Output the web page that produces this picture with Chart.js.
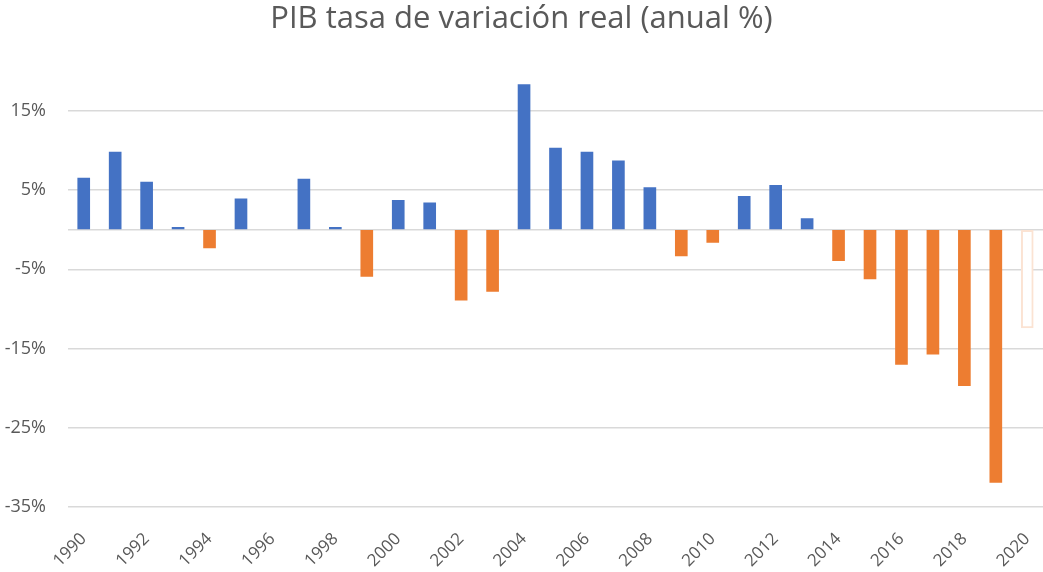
<!DOCTYPE html>
<html lang="es">
<head>
    <meta charset="UTF-8">
    <title>PIB tasa de variación real</title>
    <script src="https://cdn.jsdelivr.net/npm/chart.js"></script>
    <style>
        html, body { margin: 0; padding: 0; background: #fff; }
        #wrap { width: 1043px; height: 572px; }
    </style>
</head>
<body>
    <div id="wrap"><canvas id="pibChart"></canvas></div>
    <script>
        // años y variación anual del PIB (%)
        const years = ['1990','1991','1992','1993','1994','1995','1996','1997','1998','1999',
                       '2000','2001','2002','2003','2004','2005','2006','2007','2008','2009',
                       '2010','2011','2012','2013','2014','2015','2016','2017','2018','2019','2020'];
        const pibGrowth = [6.5, 9.8, 6.0, 0.3, -2.3, 3.9, null, 6.4, 0.3, -5.9,
                           3.7, 3.4, -8.9, -7.8, 18.3, 10.3, 9.8, 8.7, 5.3, -3.3,
                           -1.6, 4.2, 5.6, 1.4, -3.9, -6.2, -17.0, -15.7, -19.7, -31.9, -12.4];
        const estimateYears = ['2020']; // valor estimado (barra sin relleno)
        const yTicks = [-35, -25, -15, -5, 0, 5, 15];

        const BLUE = '#4472C4';
        const ORANGE = '#ED7D31';

        const fills = pibGrowth.map((v, i) => {
            if (estimateYears.includes(years[i])) return '#ffffff';
            return v >= 0 ? BLUE : ORANGE;
        });
        const borders = years.map(y => estimateYears.includes(y) ? '#FBE3D3' : 'rgba(0,0,0,0)');
        const borderW = years.map(y => estimateYears.includes(y) ? 2 : 0);

        const ctx = document.getElementById('pibChart').getContext('2d');
        new Chart(ctx, {
            type: 'bar',
            data: {
                labels: years,
                datasets: [{
                    data: pibGrowth,
                    backgroundColor: fills,
                    borderColor: borders,
                    borderWidth: borderW,
                    borderSkipped: false,
                    barThickness: 12
                }]
            },
            options: {
                responsive: true,
                maintainAspectRatio: false,
                animation: false,
                layout: { padding: 0 },
                plugins: {
                    legend: { display: false },
                    tooltip: { enabled: false },
                    title: {
                        display: true,
                        text: 'PIB tasa de variación real (anual %)',
                        color: '#595959',
                        font: { family: 'Open Sans', size: 31, weight: 'normal', lineHeight: 1.2 },
                        padding: { top: 1, bottom: 33 }
                    }
                },
                scales: {
                    x: {
                        grid: { display: false },
                        border: { display: false },
                        ticks: {
                            autoSkip: false,
                            maxRotation: 45,
                            minRotation: 45,
                            padding: 14,
                            color: '#595959',
                            font: { family: 'Open Sans', size: 17 },
                            callback: function(value, index) {
                                return index % 2 === 0 ? years[index] : '';
                            }
                        },
                        afterFit: function(scale) {
                            scale.height = 65;
                            scale.paddingLeft = 0;
                            scale.paddingRight = 0;
                        }
                    },
                    y: {
                        min: -35,
                        max: 20,
                        grid: { color: '#D9D9D9', lineWidth: 1.5, drawTicks: false },
                        border: { display: false },
                        afterBuildTicks: function(scale) {
                            scale.ticks = yTicks.map(v => ({ value: v }));
                        },
                        ticks: {
                            padding: 22,
                            color: '#595959',
                            font: { family: 'Open Sans', size: 18 },
                            callback: function(value) {
                                return value === 0 ? '' : value + '%';
                            }
                        },
                        afterFit: function(scale) {
                            scale.width = 68;
                            scale.paddingTop = 0;
                            scale.paddingBottom = 0;
                        }
                    }
                }
            }
        });
    </script>
</body>
</html>
